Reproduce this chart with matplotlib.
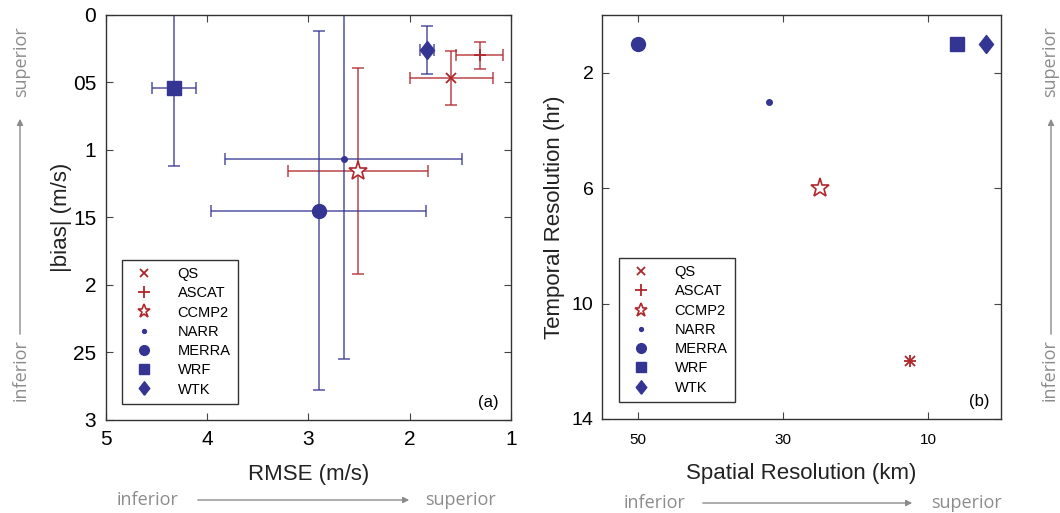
import matplotlib
matplotlib.use("Agg")
import matplotlib.pyplot as plt
from matplotlib.patches import FancyArrowPatch

# dataset names, markers, colours
names = ['QS', 'ASCAT', 'CCMP2', 'NARR', 'MERRA', 'WRF', 'WTK']
markers = ['x', '+', 'p', '.', 'o', 's', 'D']
red = '#b0262b'
blue = '#343592'
colors = [red, red, red, blue, blue, blue, blue]

# panel (a): RMSE vs |bias| with error bars
rmse = [1.59, 1.31, 2.51, 2.65, 2.90, 4.33, 1.83]
rmse_err = [0.41, 0.23, 0.69, 1.17, 1.06, 0.22, 0.07]
bias = [0.47, 0.30, 1.155, 1.07, 1.45, 0.54, 0.26]
bias_err = [0.20, 0.10, 0.76, 1.48, 1.33, 0.58, 0.18]

# panel (b): spatial vs temporal resolution
spatial = [12.5, 12.5, 25, 32, 50, 6, 2]
temporal = [12, 12, 6, 3, 1, 1, 1]

a_xticks = [5, 4, 3, 2, 1]
a_yticks = [0, 0.5, 1, 1.5, 2, 2.5, 3]
a_ylabels = ['0', '05', '1', '15', '2', '25', '3']
b_xticks = [50, 30, 10]
b_yticks = [2, 6, 10, 14]

plt.rcParams['font.family'] = ['Liberation Sans', 'DejaVu Sans']
gray = '#8c8c8c'

fig = plt.figure(figsize=(10.6, 5.13), dpi=100)
ax1 = fig.add_axes([106/1060, 93/513, 405/1060, 405/513])
ax2 = fig.add_axes([602/1060, 94/513, 399/1060, 404/513])

diamond = [(0, -1.0), (0.78, 0), (0, 1.0), (-0.78, 0), (0, -1.0)]


def marker_kw(m, c, scale=1.0):
    if m == 'p':
        return dict(marker='*', markersize=14*scale, markerfacecolor='white',
                    markeredgecolor=c, markeredgewidth=1.2)
    if m == 'x':
        return dict(marker='x', markersize=7*scale, markeredgecolor=c,
                    markeredgewidth=1.3)
    if m == '+':
        return dict(marker='+', markersize=9*scale, markeredgecolor=c,
                    markeredgewidth=1.3)
    if m == '.':
        return dict(marker='o', markersize=4*scale, markerfacecolor=c,
                    markeredgecolor=c)
    if m == 'D':
        return dict(marker=diamond, markersize=13*scale, markerfacecolor=c,
                    markeredgecolor=c)
    if m == 's':
        return dict(marker='s', markersize=9.5*scale, markerfacecolor=c,
                    markeredgecolor=c)
    return dict(marker=m, markersize=10*scale, markerfacecolor=c,
                markeredgecolor=c)


legend_scale = [0.9, 0.9, 0.7, 0.7, 0.7, 0.7, 0.75]

for i in range(len(names)):
    c = colors[i]
    ax1.errorbar(rmse[i], bias[i], xerr=rmse_err[i], yerr=bias_err[i],
                 fmt='none', ecolor=c, elinewidth=1.1, capsize=4, capthick=1.1,
                 alpha=0.85, zorder=2)
    ax1.plot(rmse[i], bias[i], linestyle='none', zorder=3,
             **marker_kw(markers[i], c))
    ax2.plot(spatial[i], temporal[i], linestyle='none', zorder=3,
             **marker_kw(markers[i], c))

for ax in (ax1, ax2):
    ax.tick_params(direction='in', top=True, right=True, length=5,
                   color='#444444')
    for s in ax.spines.values():
        s.set_color('#333333')
        s.set_linewidth(1.0)

ax1.set_xlim(5, 1)
ax1.set_ylim(3, 0)
ax1.set_xticks(a_xticks)
ax1.set_yticks(a_yticks)
ax1.set_yticklabels(a_ylabels)
ax1.tick_params(labelsize=15, pad=7)
ax1.set_xlabel('RMSE (m/s)', fontsize=16, color='#222222')
ax1.set_ylabel('|bias| (m/s)', fontsize=16, color='#222222')
ax1.xaxis.set_label_coords(0.5, -0.108)
ax1.yaxis.set_label_coords(-0.083, 0.5)
ax1.text(0.97, 0.025, '(a)', transform=ax1.transAxes, ha='right',
         va='bottom', fontsize=12)

ax2.set_xlim(55, 0)
ax2.set_ylim(14, 0)
ax2.set_xticks(b_xticks)
ax2.set_yticks(b_yticks)
ax2.tick_params(axis='x', labelsize=11, pad=10)
ax2.tick_params(axis='y', labelsize=14, pad=6)
ax2.set_xlabel('Spatial Resolution (km)', fontsize=16, color='#222222')
ax2.set_ylabel('Temporal Resolution (hr)', fontsize=16, color='#222222')
ax2.xaxis.set_label_coords(0.5, -0.108)
ax2.yaxis.set_label_coords(-0.092, 0.5)
ax2.text(0.97, 0.025, '(b)', transform=ax2.transAxes, ha='right',
         va='bottom', fontsize=12)

# legends built from proxy handles with smaller markers
for ax, bb in ((ax1, (0.04, 0.04)), (ax2, (0.043, 0.042))):
    handles = []
    for i in range(len(names)):
        h, = ax.plot([], [], linestyle='none',
                     **marker_kw(markers[i], colors[i], legend_scale[i]))
        handles.append(h)
    leg = ax.legend(handles, names, loc='lower left', bbox_to_anchor=bb,
                    borderaxespad=0, fontsize=10.5, frameon=True,
                    fancybox=False, edgecolor='#333333', framealpha=1,
                    handletextpad=1.3, labelspacing=0.36, borderpad=0.5,
                    handlelength=2.0, numpoints=1)
    leg.get_frame().set_linewidth(1.0)

# inferior / superior annotations
tk = dict(color=gray, fontsize=13, family=['Open Sans', 'DejaVu Sans'])
arr = dict(arrowstyle='-|>', color=gray, lw=1.0, mutation_scale=9)

fig.text(148/1060, 1 - 500/513, 'inferior', ha='center', va='center', **tk)
fig.text(460/1060, 1 - 500/513, 'superior', ha='center', va='center', **tk)
fig.add_artist(FancyArrowPatch((195/1060, 1 - 500/513), (412/1060, 1 - 500/513),
                               transform=fig.transFigure, **arr))

fig.text(655/1060, 1 - 503/513, 'inferior', ha='center', va='center', **tk)
fig.text(967/1060, 1 - 503/513, 'superior', ha='center', va='center', **tk)
fig.add_artist(FancyArrowPatch((700/1060, 1 - 503/513), (915/1060, 1 - 503/513),
                               transform=fig.transFigure, **arr))

fig.text(21/1060, 1 - 370/513, 'inferior', ha='center', va='center',
         rotation=90, **tk)
fig.text(21/1060, 1 - 62/513, 'superior', ha='center', va='center',
         rotation=90, **tk)
fig.add_artist(FancyArrowPatch((20/1060, 1 - 337/513), (20/1060, 1 - 116/513),
                               transform=fig.transFigure, **arr))

fig.text(1050/1060, 1 - 370/513, 'inferior', ha='center', va='center',
         rotation=90, **tk)
fig.text(1050/1060, 1 - 62/513, 'superior', ha='center', va='center',
         rotation=90, **tk)
fig.add_artist(FancyArrowPatch((1051/1060, 1 - 337/513), (1051/1060, 1 - 116/513),
                               transform=fig.transFigure, **arr))

fig.savefig('out.png', dpi=100)
